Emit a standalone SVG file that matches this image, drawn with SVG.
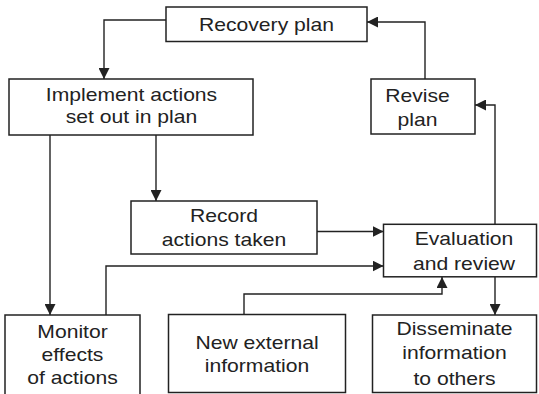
<svg xmlns="http://www.w3.org/2000/svg" width="539" height="394" viewBox="0 0 539 394">
<style>
.box{fill:#fff;stroke:#222;stroke-width:1.5}
.lbl{font-family:"Liberation Sans",Arial,sans-serif;font-size:18.7px;fill:#222;text-anchor:middle}
.con{fill:none;stroke:#222;stroke-width:1.4}
</style>
<defs>
<marker id="ah" markerUnits="userSpaceOnUse" markerWidth="11" markerHeight="11" refX="11" refY="5.5" orient="auto">
<path d="M0,0 L11,5.5 L0,11 z" fill="#222"/>
</marker>
</defs>
<rect width="539" height="394" fill="#fff"/>
<g id="connectors">
<path class="con" d="M166,20 H104 V79" marker-end="url(#ah)"/>
<path class="con" d="M50,135 V315" marker-end="url(#ah)"/>
<path class="con" d="M156,135 V201" marker-end="url(#ah)"/>
<path class="con" d="M317,231.5 H383.5" marker-end="url(#ah)"/>
<path class="con" d="M106,315 V266 H383.5" marker-end="url(#ah)"/>
<path class="con" d="M244,314.5 V294 H442 V277" marker-end="url(#ah)"/>
<path class="con" d="M495,277 V315" marker-end="url(#ah)"/>
<path class="con" d="M495,224 V105 H475" marker-end="url(#ah)"/>
<path class="con" d="M425,79 V22 H367" marker-end="url(#ah)"/>
</g>
<g id="recovery-plan">
<rect class="box" x="166" y="7" width="201" height="34.5"/>
<text class="lbl" transform="translate(266.5,0) scale(1.13,1)"><tspan x="0" y="31.5">Recovery plan</tspan></text>
</g>
<g id="implement">
<rect class="box" x="9" y="79" width="244" height="56"/>
<text class="lbl" transform="translate(131.5,0) scale(1.13,1)"><tspan x="0" y="100.7">Implement actions</tspan><tspan x="0" y="123.5">set out in plan</tspan></text>
</g>
<g id="revise-plan">
<rect class="box" x="371" y="79" width="104" height="55"/>
<text class="lbl" transform="translate(417.5,0) scale(1.13,1)"><tspan x="0" y="101.7">Revise</tspan><tspan x="0" y="126">plan</tspan></text>
</g>
<g id="record">
<rect class="box" x="131" y="201" width="186" height="53"/>
<text class="lbl" transform="translate(224,0) scale(1.13,1)"><tspan x="0" y="222.3">Record</tspan><tspan x="0" y="246.3">actions taken</tspan></text>
</g>
<g id="evaluation">
<rect class="box" x="383.5" y="224.3" width="153" height="52.5"/>
<text class="lbl" transform="translate(464,0) scale(1.13,1)"><tspan x="0" y="245.5">Evaluation</tspan><tspan x="0" y="270">and review</tspan></text>
</g>
<g id="monitor">
<rect class="box" x="5" y="315" width="135" height="82"/>
<text class="lbl" transform="translate(72.5,0) scale(1.13,1)"><tspan x="0" y="338.3">Monitor</tspan><tspan x="0" y="361">effects</tspan><tspan x="0" y="384">of actions</tspan></text>
</g>
<g id="new-external">
<rect class="box" x="168.5" y="314.5" width="177" height="78"/>
<text class="lbl" transform="translate(257,0) scale(1.13,1)"><tspan x="0" y="349">New external</tspan><tspan x="0" y="371.7">information</tspan></text>
</g>
<g id="disseminate">
<rect class="box" x="372.5" y="315" width="164" height="77.5"/>
<text class="lbl" transform="translate(454.5,0) scale(1.13,1)"><tspan x="0" y="335">Disseminate</tspan><tspan x="0" y="359.3">information</tspan><tspan x="0" y="385">to others</tspan></text>
</g>
</svg>
